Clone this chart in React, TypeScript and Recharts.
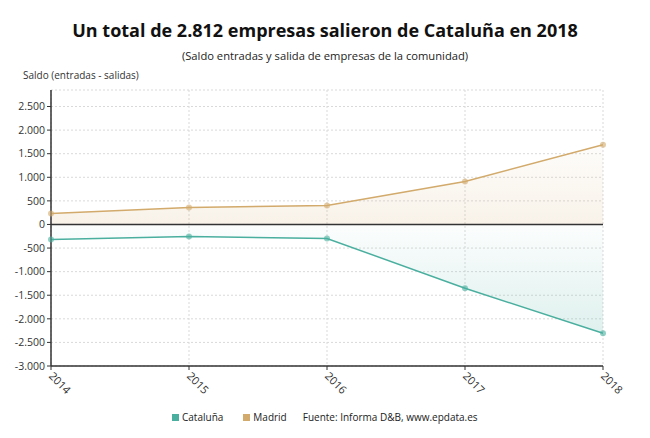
import React from "react";
import {
  ComposedChart, Area, XAxis, YAxis, CartesianGrid, ReferenceLine,
} from "recharts";

const years = ["2014", "2015", "2016", "2017", "2018"];
const cataluna = [-317, -254, -296, -1353, -2304];
const madrid = [232, 360, 400, 909, 1691];
const yTicks = [-3000, -2500, -2000, -1500, -1000, -500, 0, 500, 1000, 1500, 2000, 2500];

const CAT = "#4aaf9f";
const MAD = "#d2aa6b";
const FONT = "'Open Sans', 'Noto Sans', sans-serif";

const data = years.map((y, i) => ({ year: y, cataluna: cataluna[i], madrid: madrid[i] }));

const fmt = (v: number) => {
  const s = Math.abs(v).toString().replace(/\B(?=(\d{3})+(?!\d))/g, ".");
  return v < 0 ? `-${s}` : s;
};

const XTick = (props: any) => {
  const { x, y, payload } = props;
  return (
    <g transform={`translate(${x},${y + 2})`}>
      <text transform="rotate(45)" x={0} y={0} dy={4} textAnchor="start" fontSize={11} fill="#333" fontFamily={FONT}>
        {payload.value}
      </text>
    </g>
  );
};

export default function App() {
  return (
    <div style={{ position: "absolute", left: 0, top: 0, width: 650, height: 438, background: "#fff", fontFamily: FONT }}>
      <div style={{ position: "absolute", top: 18, width: 650, textAlign: "center", fontSize: 18, fontWeight: 700, color: "#111" }}>
        Un total de 2.812 empresas salieron de Cataluña en 2018
      </div>
      <div style={{ position: "absolute", top: 48, width: 650, textAlign: "center", fontSize: 11.2, color: "#222" }}>
        (Saldo entradas y salida de empresas de la comunidad)
      </div>
      <div style={{ position: "absolute", top: 68, left: 23, fontSize: 10, color: "#333" }}>
        Saldo (entradas - salidas)
      </div>
      <ComposedChart width={650} height={438} data={data} margin={{ top: 90, right: 47, bottom: 0, left: 0 }}>
        <defs>
          <linearGradient id="gMad" x1="0" y1="0" x2="0" y2="1">
            <stop offset="0%" stopColor={MAD} stopOpacity={0.05} />
            <stop offset="100%" stopColor={MAD} stopOpacity={0.25} />
          </linearGradient>
          <linearGradient id="gCat" x1="0" y1="0" x2="0" y2="1">
            <stop offset="0%" stopColor={CAT} stopOpacity={0.03} />
            <stop offset="100%" stopColor={CAT} stopOpacity={0.3} />
          </linearGradient>
        </defs>
        <CartesianGrid stroke="#d9d9d9" strokeDasharray="2 2" />
        <XAxis
          dataKey="year"
          tick={<XTick />}
          tickLine={{ stroke: "#333" }}
          tickSize={4}
          axisLine={{ stroke: "#333", strokeWidth: 1.5 }}
          interval={0}
          height={72}
        />
        <YAxis
          type="number"
          domain={[-3000, 2850]}
          ticks={yTicks}
          tickFormatter={fmt}
          width={51}
          tick={{ fontSize: 10.5, fill: "#333", fontFamily: FONT }}
          tickLine={{ stroke: "#333" }}
          tickSize={4}
          axisLine={{ stroke: "#333", strokeWidth: 1.5 }}
          allowDataOverflow
        />
        <Area
          type="linear"
          dataKey="madrid"
          stroke={MAD}
          strokeWidth={1.5}
          fill="url(#gMad)"
          dot={{ r: 3, fill: MAD, stroke: "none" }}
          activeDot={false}
          isAnimationActive={false}
        />
        <Area
          type="linear"
          dataKey="cataluna"
          stroke={CAT}
          strokeWidth={1.5}
          fill="url(#gCat)"
          dot={{ r: 3, fill: CAT, stroke: "none" }}
          activeDot={false}
          isAnimationActive={false}
        />
        <ReferenceLine y={0} stroke="#333" strokeWidth={1.5} />
      </ComposedChart>
      <div style={{ position: "absolute", top: 410, left: 172, fontSize: 10, color: "#222", display: "flex", alignItems: "center" }}>
        <span style={{ width: 7, height: 7, background: CAT, display: "inline-block", marginRight: 3 }} />
        <span style={{ marginRight: 20 }}>Cataluña</span>
        <span style={{ width: 7, height: 7, background: MAD, display: "inline-block", marginRight: 3 }} />
        <span style={{ marginRight: 16 }}>Madrid</span>
        <span>Fuente: Informa D&amp;B, www.epdata.es</span>
      </div>
    </div>
  );
}
